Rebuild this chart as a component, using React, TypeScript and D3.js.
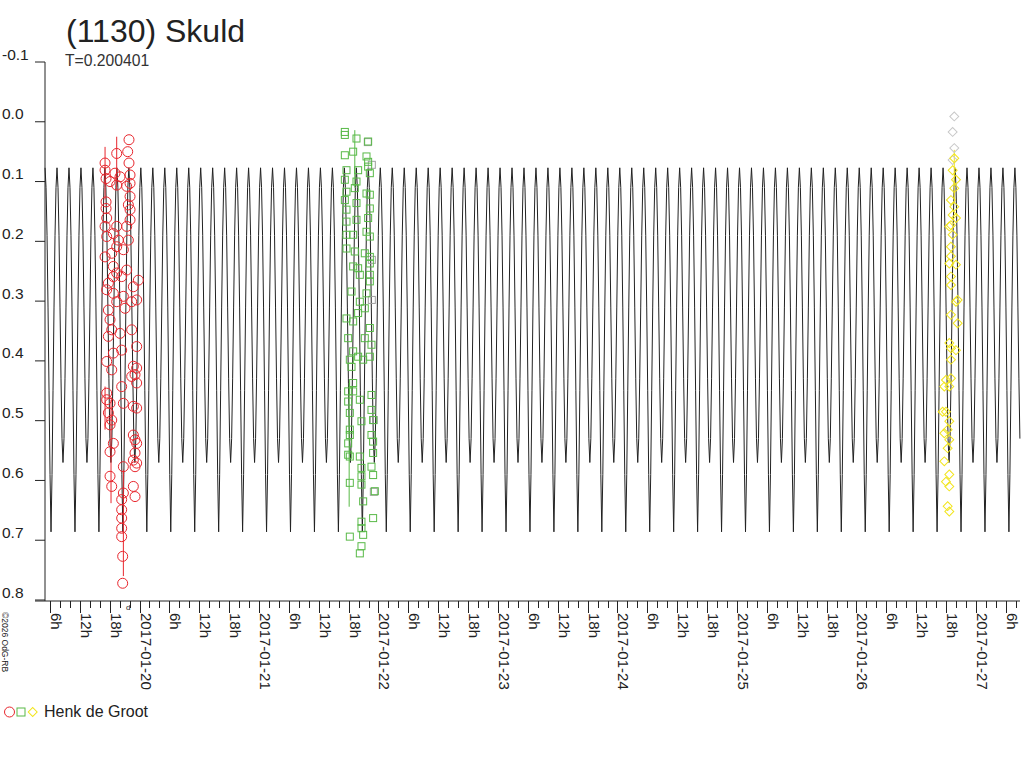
import * as d3 from "d3";

// hours are counted from 2017-01-19 00:00 UT
const T0 = Date.UTC(2017, 0, 19);
const startHour = 5.02;
const endHour = 200.84;

const title = "(1130) Skuld";
const periodLabel = "T=0.200401";
const observer = "Henk de Groot";
const credit = "©2026 OdG-RB";

const yTicks = [-0.1, 0, 0.1, 0.2, 0.3, 0.4, 0.5, 0.6, 0.7, 0.8];

// model lightcurve: one rotation, 24 phase steps, starting at the deep minimum
const period = 0.200401; // days
const minEpoch = 6.23; // hour of a deep minimum
const profile = [
  0.686, 0.59, 0.45, 0.31, 0.19, 0.11, 0.077, 0.11, 0.19, 0.31, 0.43, 0.53,
  0.57, 0.53, 0.43, 0.31, 0.19, 0.11, 0.077, 0.11, 0.19, 0.31, 0.45, 0.59,
];

// [hour, mag]
const redObs: [number, number][] = [
  [21.89, 0.03], [21.63, 0.05], [19.42, 0.053], [21.89, 0.069], [17.08, 0.069],
  [17.08, 0.081], [17.28, 0.095], [19.08, 0.086], [20.09, 0.092], [22.1, 0.089],
  [22.1, 0.103], [21.43, 0.108], [19.42, 0.106], [18.08, 0.1], [22.1, 0.125],
  [17.28, 0.134], [17.28, 0.145], [21.76, 0.139], [22.1, 0.147], [17.41, 0.161],
  [17.08, 0.175], [22.1, 0.164], [21.43, 0.175], [19.42, 0.175], [18.75, 0.187],
  [17.41, 0.192], [19.75, 0.198], [21.76, 0.198], [19.42, 0.209], [20.76, 0.214],
  [18.42, 0.22], [17.08, 0.226], [18.75, 0.242], [19.42, 0.253], [21.43, 0.248],
  [20.42, 0.259], [18.75, 0.259], [17.75, 0.27], [23.77, 0.265], [22.76, 0.276],
  [17.41, 0.281], [18.75, 0.287], [20.76, 0.292], [23.43, 0.298], [22.43, 0.301],
  [19.42, 0.301], [21.09, 0.312], [17.75, 0.315], [18.08, 0.331], [18.42, 0.348],
  [20.09, 0.354], [22.43, 0.348], [17.75, 0.359], [18.75, 0.387], [20.42, 0.382],
  [23.43, 0.376], [17.41, 0.401], [18.42, 0.415], [22.76, 0.409], [23.43, 0.412],
  [23.1, 0.423], [22.43, 0.426], [23.43, 0.437], [20.42, 0.443], [17.41, 0.454],
  [17.41, 0.465], [18.08, 0.471], [20.76, 0.471], [22.76, 0.476], [23.43, 0.479],
  [17.75, 0.487], [18.42, 0.499], [18.08, 0.507], [22.76, 0.524], [23.1, 0.532],
  [23.43, 0.538], [18.75, 0.538], [18.08, 0.552], [23.1, 0.554], [22.76, 0.566],
  [23.43, 0.571], [20.76, 0.577], [23.1, 0.577], [18.08, 0.593], [18.42, 0.61],
  [22.76, 0.61], [23.1, 0.627], [20.76, 0.621], [20.42, 0.632], [20.42, 0.649],
  [20.42, 0.663], [20.42, 0.68], [20.42, 0.694], [20.62, 0.727], [20.62, 0.772],
];

const greenObs: [number, number][] = [
  [65.24, 0.017], [65.24, 0.022], [67.58, 0.028], [69.92, 0.033], [65.24, 0.056],
  [66.91, 0.05], [69.59, 0.058], [69.92, 0.067], [69.92, 0.075], [70.26, 0.086],
  [67.91, 0.081], [65.57, 0.081], [65.24, 0.097], [67.58, 0.1], [67.24, 0.111],
  [65.57, 0.117], [69.59, 0.12], [70.26, 0.122], [65.24, 0.131], [67.58, 0.136],
  [70.26, 0.145], [65.57, 0.147], [69.92, 0.161], [67.58, 0.164], [65.57, 0.167],
  [69.59, 0.184], [65.57, 0.189], [66.91, 0.189], [70.26, 0.192], [65.57, 0.212],
  [67.24, 0.217], [69.25, 0.22], [70.26, 0.226], [66.91, 0.242], [67.91, 0.245],
  [70.26, 0.237], [68.25, 0.256], [70.26, 0.256], [70.26, 0.267], [66.58, 0.284],
  [69.59, 0.287], [68.25, 0.301], [69.25, 0.312], [67.91, 0.32], [65.57, 0.329],
  [66.91, 0.334], [70.26, 0.345], [65.91, 0.362], [69.25, 0.362], [70.59, 0.373],
  [66.91, 0.384], [66.24, 0.398], [67.91, 0.393], [68.92, 0.398], [70.26, 0.393],
  [66.58, 0.41], [66.91, 0.437], [65.91, 0.451], [66.91, 0.451], [68.25, 0.465],
  [70.59, 0.457], [65.91, 0.468], [66.24, 0.487], [70.59, 0.482], [70.92, 0.499],
  [68.58, 0.501], [66.24, 0.515], [66.24, 0.524], [70.59, 0.524], [70.92, 0.535],
  [65.91, 0.538], [66.24, 0.56], [68.25, 0.56], [65.91, 0.557], [70.92, 0.554],
  [70.59, 0.577], [68.58, 0.579], [70.92, 0.591], [68.58, 0.593], [68.58, 0.607],
  [66.24, 0.604], [71.26, 0.618], [68.92, 0.635], [70.92, 0.663], [68.58, 0.669],
  [68.58, 0.68], [68.92, 0.691], [66.24, 0.694], [68.58, 0.71], [68.25, 0.722],
];

const greyObs: [number, number][] = [
  [69.85, 0.034], [70.66, 0.072], [70.66, 0.231], [70.66, 0.298], [71.06, 0.499],
  [71.06, 0.619],
];

const yellowObs: [number, number][] = [
  [187.64, 0.061], [187.31, 0.081], [187.98, 0.097], [187.64, 0.111], [186.97, 0.131],
  [187.64, 0.142], [187.31, 0.156], [187.98, 0.161], [186.97, 0.173], [186.64, 0.175],
  [187.31, 0.189], [186.97, 0.209], [186.97, 0.225], [186.64, 0.237], [187.98, 0.239],
  [186.97, 0.259], [186.97, 0.273], [188.31, 0.298], [187.98, 0.301], [186.97, 0.323],
  [188.31, 0.337], [186.64, 0.37], [186.97, 0.379], [187.98, 0.382], [186.97, 0.398],
  [185.97, 0.432], [186.97, 0.429], [185.64, 0.443], [186.64, 0.443], [185.3, 0.485],
  [185.97, 0.485], [186.64, 0.501], [186.31, 0.515], [185.64, 0.521], [186.64, 0.532],
  [186.31, 0.546], [185.64, 0.568], [186.64, 0.59], [185.97, 0.602], [186.64, 0.61],
  [186.31, 0.643], [186.64, 0.652],
];

const paleObs: [number, number][] = [
  [187.64, -0.009], [187.31, 0.017], [187.64, 0.044], [187.31, 0.064],
];

// [hour, low mag, high mag]
const redBars: [number, number, number][] = [
  [19.42, 0.025, 0.114], [17.08, 0.042, 0.13], [17.08, 0.443, 0.515],
  [18.28, 0.465, 0.638], [20.76, 0.582, 0.76],
];
const greenBars: [number, number, number][] = [
  [67.24, 0.014, 0.11], [66.11, 0.437, 0.644],
];
const yellowBars: [number, number, number][] = [[187.64, 0.047, 0.131]];

const RED = "#e8262d";
const GREEN = "#58b947";
const YELLOW = "#f2e51e";
const INK = "#222";
const FONT = "'Liberation Sans', Arial, sans-serif";

const toDate = (h: number) => new Date(T0 + h * 3600e3);

export default function App() {
  const x = d3
    .scaleUtc()
    .domain([toDate(startHour), toDate(endHour)])
    .range([45, 1020]);
  const y = d3.scaleLinear().domain([-0.1, 0.8]).range([62, 600]);

  // repeat the phased profile over the whole time range
  const pHours = period * 24;
  const curve: [number, number][] = [];
  for (let k = -1; k <= 41; k++) {
    profile.forEach((m, i) => {
      const h = minEpoch + (k + i / profile.length) * pHours;
      if (h >= startHour && h <= endHour) curve.push([h, m]);
    });
  }
  const line = d3
    .line<[number, number]>()
    .x((d) => x(toDate(d[0])))
    .y((d) => y(d[1]));

  const ticks = d3.utcHour.every(2)!.range(toDate(startHour), toDate(endHour));
  const dayFmt = d3.utcFormat("%Y-%m-%d");

  const bars = (data: [number, number, number][], color: string) =>
    data.map((d, i) => (
      <line
        key={i}
        x1={x(toDate(d[0]))}
        x2={x(toDate(d[0]))}
        y1={y(d[1])}
        y2={y(d[2])}
        stroke={color}
      />
    ));

  const squares = (data: [number, number][], color: string) =>
    data.map((d, i) => (
      <rect
        key={i}
        x={x(toDate(d[0])) - 3.5}
        y={y(d[1]) - 3.5}
        width={7}
        height={7}
        fill="none"
        stroke={color}
      />
    ));

  const diamond = d3.symbol(d3.symbolSquare, 40)();
  const diamonds = (data: [number, number][], color: string) =>
    data.map((d, i) => (
      <path
        key={i}
        d={diamond}
        transform={`translate(${x(toDate(d[0]))},${y(d[1])}) rotate(45)`}
        fill="none"
        stroke={color}
      />
    ));

  return (
    <svg
      width={1024}
      height={768}
      style={{ position: "absolute", left: 0, top: 0, background: "#fff" }}
      fontFamily={FONT}
    >
      <text x={66} y={42} fontSize={32} fill={INK}>
        {title}
      </text>
      <text x={65} y={66} fontSize={15.7} fill="#333">
        {periodLabel}
      </text>

      {/* y axis */}
      <line x1={45} x2={45} y1={62} y2={601} stroke={INK} />
      {yTicks.map((t) => (
        <g key={t}>
          <line x1={35} x2={45} y1={y(t)} y2={y(t)} stroke={INK} />
          <text x={2} y={y(t) - 2.5} fontSize={15.5} fill={INK}>
            {t.toFixed(1)}
          </text>
        </g>
      ))}

      {/* x axis */}
      <line x1={35} x2={1020} y1={601} y2={601} stroke={INK} />
      {ticks.map((t) => {
        const h = t.getUTCHours();
        const major = h % 6 === 0;
        const px = Math.round(x(t)) + 0.5;
        return (
          <g key={+t}>
            <line x1={px} x2={px} y1={601} y2={major ? 613 : 608} stroke={INK} />
            {major && (
              <text
                transform={`translate(${px},613) rotate(90)`}
                fontSize={15}
                fill={INK}
              >
                {h === 0 ? dayFmt(t) : `${h}h`}
              </text>
            )}
          </g>
        );
      })}
      <text x={126} y={610} fontSize={8} fill={INK}>
        d
      </text>

      {/* model */}
      <path d={line(curve) ?? ""} fill="none" stroke={INK} strokeWidth={1} />

      {/* observations */}
      <g strokeWidth={1}>
        {bars(redBars, RED)}
        {bars(greenBars, GREEN)}
        {bars(yellowBars, YELLOW)}
        {redObs.map((d, i) => (
          <circle
            key={i}
            cx={x(toDate(d[0]))}
            cy={y(d[1])}
            r={5}
            fill="none"
            stroke={RED}
          />
        ))}
        {squares(greyObs, "#a0a0a0")}
        {squares(greenObs, GREEN)}
        {diamonds(paleObs, "#c8c8c8")}
        {diamonds(yellowObs, YELLOW)}
      </g>

      {/* credit */}
      <text transform="translate(2,612) rotate(90)" fontSize={8.5} fill={INK}>
        {credit}
      </text>

      {/* legend */}
      <circle cx={9.5} cy={712} r={5} fill="none" stroke={RED} />
      <rect x={17} y={708} width={8} height={8} fill="none" stroke={GREEN} />
      <path
        d={diamond}
        transform="translate(32.7,712) rotate(45)"
        fill="none"
        stroke={YELLOW}
      />
      <text x={44} y={717} fontSize={16} fill={INK}>
        {observer}
      </text>
    </svg>
  );
}
